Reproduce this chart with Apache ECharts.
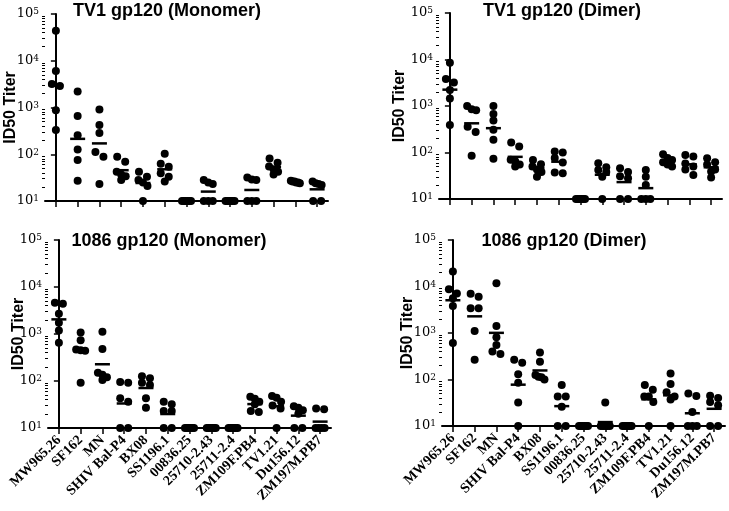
<!DOCTYPE html>
<html>
<head>
<meta charset="utf-8">
<script src="https://cdn.jsdelivr.net/npm/echarts@6.0.0/dist/echarts.min.js"></script>
<style>
  html, body { margin: 0; padding: 0; background: #fff; }
  #chart { width: 729px; height: 511px; }
</style>
</head>
<body>
<div id="chart"></div>
<script>
const categories = ['MW965.26', 'SF162', 'MN', 'SHIV Bal-P4', 'BX08', 'SS1196.1', '00836.25',
  '25710-2.43', '25711-2.4', 'ZM109F.PB4', 'TV1.21', 'Du156.12', 'ZM197M.PB7'];

const titles = ['TV1 gp120 (Monomer)', 'TV1 gp120 (Dimer)', '1086 gp120 (Monomer)', '1086 gp120 (Dimer)'];

// ID50 titers, six animals per pseudovirus
const tv1Monomer = [
  [43600, 6000, 3200, 2900, 870, 330],
  [2200, 660, 256, 126, 75, 27],
  [910, 420, 285, 112, 88, 23],
  [88, 69, 42, 37, 34, 28],
  [42, 33, 28, 25, 21, 10],
  [103, 63, 54, 39, 33, 26],
  [10, 10, 10, 10, 10, 10],
  [28, 25, 23, 10, 10, 10],
  [10, 10, 10, 10, 10, 10],
  [32, 29, 28, 10, 10, 10],
  [81, 66, 55, 48, 42, 37],
  [27, 26, 26, 25, 25, 24],
  [26, 24, 23, 22, 10, 10]
];
const tv1Dimer = [
  [8500, 3800, 3200, 2200, 1450, 390],
  [1000, 850, 815, 360, 275, 85],
  [1000, 670, 485, 310, 187, 73],
  [164, 134, 70, 65, 55, 50],
  [69, 56, 50, 43, 38, 30],
  [105, 100, 76, 61, 37, 36],
  [10, 10, 10, 10, 10, 10],
  [59, 48, 42, 38, 30, 10],
  [46, 38, 31, 28, 10, 10],
  [42, 30, 20, 10, 10, 10],
  [92, 76, 69, 62, 55, 50],
  [88, 82, 58, 50, 43, 33],
  [75, 62, 55, 43, 39, 29]
];
const c1086Monomer = [
  [4650, 4400, 2700, 1740, 1180, 650],
  [1070, 740, 470, 450, 440, 92],
  [1120, 480, 150, 135, 120, 105],
  [95, 92, 43, 36, 10, 10],
  [126, 115, 92, 82, 43, 27],
  [36, 32, 23, 23, 10, 10],
  [10, 10, 10, 10, 10, 10],
  [10, 10, 10, 10, 10, 10],
  [10, 10, 10, 10, 10, 10],
  [46, 42, 36, 32, 23, 22],
  [48, 44, 36, 30, 26, 10],
  [29, 27, 24, 20, 10, 10],
  [26, 25, 10, 10, 10, 10]
];
const c1086Dimer = [
  [21000, 8700, 7100, 5600, 3800, 610],
  [7000, 6000, 3400, 3400, 1100, 265],
  [11700, 1410, 810, 550, 400, 355],
  [265, 230, 130, 85, 32, 10],
  [380, 240, 125, 115, 112, 100],
  [76, 43, 43, 26, 10, 10],
  [10, 10, 10, 10, 10, 10],
  [32, 10, 10, 10, 10, 10],
  [10, 10, 10, 10, 10, 10],
  [76, 60, 43, 43, 33, 10],
  [135, 80, 53, 43, 37, 10],
  [50, 44, 20, 10, 10, 10],
  [45, 40, 33, 28, 10, 10]
];

const panelValues = [tv1Monomer, tv1Dimer, c1086Monomer, c1086Dimer];

// layout of the four panels
const panels = [
  { grid: { left: 45, top: 14, width: 283, height: 187 }, titleX: 167, titleY: 2, nameGap: 26, labels: false },
  { grid: { left: 439, top: 13, width: 283, height: 186 }, titleX: 562, titleY: 2, nameGap: 31, labels: false },
  { grid: { left: 48, top: 240, width: 283, height: 188 }, titleX: 169, titleY: 232, nameGap: 21, labels: true },
  { grid: { left: 442, top: 240, width: 283, height: 186 }, titleX: 564, titleY: 232, nameGap: 26, labels: true }
];

// minor log ticks (2..9 x 10^n), in decades
const minorTicks = [];
for (let e = 1; e < 5; e++) {
  for (let m = 2; m <= 9; m++) minorTicks.push(Math.log10(m * Math.pow(10, e)));
}

const PX_PER_DECADE = 46.7;
const PX_PER_CAT = 283 / 13;

// spread overlapping dots sideways, like a column scatter plot
function swarm(vals, catIndex) {
  const sorted = vals.slice().sort((a, b) => b - a);
  const rows = [];
  sorted.forEach(v => {
    const py = Math.log10(v) * PX_PER_DECADE;
    const row = rows[rows.length - 1];
    if (row && row.py0 - py < 6) row.items.push(v);
    else rows.push({ py0: py, items: [v] });
  });
  const out = [];
  rows.forEach(r => {
    const n = r.items.length;
    const step = n > 1 ? Math.min(8, 9 / (n - 1)) : 0;
    r.items.forEach((v, k) => {
      out.push([catIndex + (k - (n - 1) / 2) * step / PX_PER_CAT, v]);
    });
  });
  return out;
}

function geoMean(vals) {
  const s = vals.reduce((a, v) => a + Math.log10(v), 0);
  return Math.pow(10, s / vals.length);
}

const grid = [], xAxis = [], yAxis = [], series = [], title = [];

panels.forEach((p, g) => {
  grid.push(Object.assign({ outerBoundsMode: 'none' }, p.grid));

  title.push({
    text: titles[g],
    left: p.titleX,
    top: p.titleY,
    textAlign: 'center',
    textVerticalAlign: 'top',
    padding: 0,
    textStyle: { fontFamily: 'Liberation Sans', fontSize: 18, fontWeight: 'bold', color: '#000' }
  });

  xAxis.push({
    type: 'category',
    gridIndex: g,
    position: 'bottom',
    data: categories,
    boundaryGap: true,
    axisLine: { show: true, onZero: false, lineStyle: { color: '#000', width: 2 } },
    axisTick: { show: true, alignWithLabel: true, length: 6, lineStyle: { color: '#000', width: 1.5 } },
    axisLabel: {
      show: p.labels,
      interval: 0,
      rotate: 45,
      margin: 10,
      fontFamily: 'Liberation Serif',
      fontWeight: 'bold',
      fontSize: 14,
      color: '#000'
    },
    splitLine: { show: false }
  });
  xAxis.push({
    type: 'value',
    gridIndex: g,
    position: 'bottom',
    min: -0.5,
    max: 12.5,
    show: false
  });

  yAxis.push({
    type: 'log',
    logBase: 10,
    gridIndex: g,
    position: 'left',
    min: 10,
    max: 100000,
    name: 'ID50 Titer',
    nameLocation: 'middle',
    nameGap: p.nameGap,
    nameMoveOverlap: false,
    nameTextStyle: { fontFamily: 'Liberation Sans', fontSize: 16, fontWeight: 'bold', color: '#000' },
    axisLine: { show: true, lineStyle: { color: '#000', width: 2 } },
    axisTick: { show: true, length: 5, lineStyle: { color: '#000', width: 1.5 } },
    axisLabel: {
      margin: 6,
      formatter: v => '{b|10}{s|' + Math.round(Math.log10(v)) + '}',
      rich: {
        b: { fontFamily: 'DejaVu Serif', fontSize: 13, color: '#000' },
        s: { fontFamily: 'DejaVu Serif', fontSize: 9, color: '#000', verticalAlign: 'top' }
      }
    },
    splitLine: { show: false }
  });
  // same span in decades, only used for the minor ticks
  yAxis.push({
    type: 'value',
    gridIndex: g,
    position: 'left',
    min: 1,
    max: 5,
    axisLine: { show: false },
    axisLabel: { show: false },
    splitLine: { show: false },
    axisTick: { show: true, length: 3, customValues: minorTicks, lineStyle: { color: '#000', width: 1 } }
  });

  const vals = panelValues[g];
  let dots = [];
  vals.forEach((arr, i) => { dots = dots.concat(swarm(arr, i)); });
  const means = vals.map((arr, i) => [i, geoMean(arr)]);

  series.push({
    type: 'scatter',
    xAxisIndex: 2 * g + 1,
    yAxisIndex: 2 * g,
    symbol: 'circle',
    symbolSize: 8,
    itemStyle: { color: '#000', opacity: 1 },
    data: dots,
    silent: true,
    z: 2
  });
  series.push({
    type: 'scatter',
    xAxisIndex: 2 * g + 1,
    yAxisIndex: 2 * g,
    symbol: 'rect',
    symbolSize: [15, 2.5],
    itemStyle: { color: '#000', opacity: 1 },
    data: means,
    silent: true,
    z: 3
  });
});

const chart = echarts.init(document.getElementById('chart'), null, { renderer: 'canvas' });
chart.setOption({
  animation: false,
  backgroundColor: '#fff',
  title: title,
  grid: grid,
  xAxis: xAxis,
  yAxis: yAxis,
  series: series
});
</script>
</body>
</html>
